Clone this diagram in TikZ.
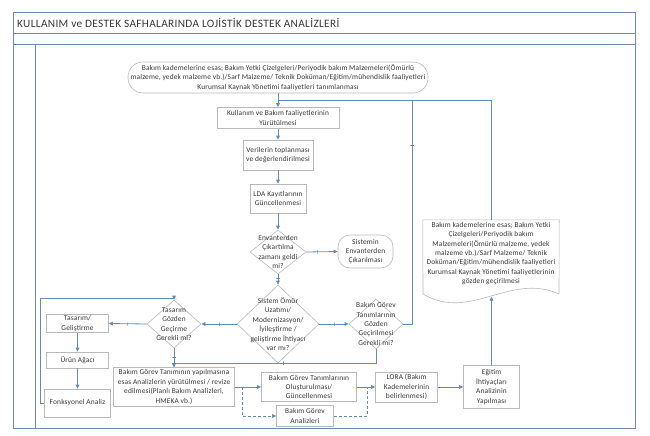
\documentclass[tikz,border=0pt]{standalone}
\usepackage{fontspec}
\setmainfont{Carlito}[LetterSpace=2]
\newfontfamily\titlefont{Carlito}[LetterSpace=3]
\usetikzlibrary{shapes.geometric,arrows.meta}
\definecolor{cblue}{RGB}{96,140,188}
\definecolor{bord}{RGB}{185,185,185}
\definecolor{frm}{RGB}{112,136,170}
\definecolor{txt}{RGB}{55,55,55}
\begin{document}
\begin{tikzpicture}[x=1pt,y=-1pt,
  box/.style={draw=bord, line width=0.6pt, fill=white, align=center,
    font=\fontsize{7.4}{9.4}\selectfont, text=txt, inner sep=0.5pt},
  rbox/.style={box, rounded corners=12pt},
  dia/.style={diamond, draw=bord, line width=0.6pt, fill=white, inner sep=0pt},
  dtext/.style={align=center, font=\fontsize{7.4}{9.4}\selectfont, text=txt, inner sep=0pt},
  link/.style={draw=cblue, line width=0.8pt},
  arr/.style={link, -{Triangle[length=4pt,width=3.6pt]}},
  tk/.style={draw=cblue, line width=0.5pt, inner sep=0pt, minimum width=0pt, minimum height=3.5pt, sloped},
  frame/.style={draw=frm, line width=0.8pt}
]
\useasboundingbox (0,0) rectangle (650,436);
% frame
\draw[frame] (13,12) rectangle (635,33);
\node[anchor=west, font=\titlefont\fontsize{11.3}{13}\selectfont, text=txt, inner sep=0pt] (title) at (17,22.5) {KULLANIM ve DESTEK SAFHALARINDA LOJİSTİK DESTEK ANALİZLERİ};
\draw[frame] (13,33) rectangle (635,428);
\draw[frame, line width=0.5pt] (13,44) -- (635,44);
\draw[frame, line width=0.5pt] (35,44) -- (35,428);

% nodes
\node[rbox, rounded corners=15pt, minimum width=300pt, minimum height=31pt] (top) at (278,77.5)
  {Bakım kademelerine esas; Bakım Yetki Çizelgeleri/Periyodik bakım Malzemeleri(Ömürlü\\
   malzeme, yedek malzeme vb.)/Sarf Malzeme/ Teknik Doküman/Eğitim/mühendislik faaliyetleri\\
   Kurumsal Kaynak Yönetimi faaliyetleri tanımlanması};
\node[box, minimum width=122pt, minimum height=21pt] (kb) at (278,118)
  {Kullanım ve Bakım faaliyetlerinin\\Yürütülmesi};
\node[box, minimum width=70pt, minimum height=30pt] (ver) at (278,155)
  {Verilerin toplanması\\ve değerlendirilmesi};
\node[box, minimum width=56pt, minimum height=29pt] (lda) at (278,198.5)
  {LDA Kayıtlarının\\Güncellenmesi};
\node[dia, minimum width=56pt, minimum height=44pt,
  label={[dtext]center:{Envanterden\\Çıkartılma\\zamanı geldi\\mi?}}] (env) at (278,252) {};
\node[rbox, minimum width=55pt, minimum height=33pt] (sis) at (365.5,251.5)
  {Sistemin\\Envanterden\\Çıkarılması};
\node[dia, minimum width=82pt, minimum height=78pt,
  label={[dtext]center:{Sistem Ömür\\Uzatımı/\\Modernizasyon/\\İyileştirme /\\geliştirme İhtiyacı\\var mı?}}] (som) at (278,324) {};
\node[dia, minimum width=54pt, minimum height=48pt,
  label={[dtext]center:{Tasarım\\Gözden\\Geçirme\\Gerekli mi?}}] (tas) at (174,324) {};
\node[dia, minimum width=54pt, minimum height=50pt,
  label={[dtext]center:{Bakım Görev\\Tanımlarının\\Gözden\\Geçirilmesi\\Gerekli mi?}}] (bgg) at (376,324) {};
\node[box, minimum width=62pt, minimum height=18pt] (tg) at (77.5,323.5) {Tasarım/\\Geliştirme};
\node[box, minimum width=62pt, minimum height=16pt] (ua) at (77.5,360) {Ürün Ağacı};
\node[box, minimum width=66pt, minimum height=28pt] (fa) at (77.5,403) {Fonksyonel Analiz};
\node[box, minimum width=121pt, minimum height=39pt] (bgt) at (174,387)
  {Bakım Görev Tanımının yapılmasına\\esas Analizlerin yürütülmesi / revize\\edilmesi(Planlı Bakım Analizleri,\\HMEKA vb.)};
\node[box, minimum width=95pt, minimum height=29pt] (bgo) at (309,387)
  {Bakım Görev Tanımlarının\\Oluşturulması/\\Güncellenmesi};
\node[box, minimum width=57pt, minimum height=21pt] (bga) at (305,416) {Bakım Görev\\Analizleri};
\node[box, minimum width=62pt, minimum height=30pt] (lora) at (406.5,387)
  {LORA (Bakım\\Kademelerinin\\belirlenmesi)};
\node[box, minimum width=56pt, minimum height=43pt] (egi) at (491.5,387)
  {Eğitim\\İhtiyaçları\\Analizinin\\Yapılması};
% document shape
\node[minimum width=136pt, minimum height=75pt, inner sep=0pt] (doc) at (491,257.5) {};
\draw[draw=bord, line width=0.6pt, fill=white] (doc.north west) -- (doc.north east) -- (559,294)
  .. controls (510,272) and (470,322) .. (423,294) -- cycle;
\node[dtext, anchor=north] (doctext) at (491,222)
  {Bakım kademelerine esas; Bakım Yetki\\Çizelgeleri/Periyodik bakım\\Malzemeleri(Ömürlü malzeme, yedek\\malzeme vb.)/Sarf Malzeme/ Teknik\\Doküman/Eğitim/mühendislik faaliyetleri\\Kurumsal Kaynak Yönetimi faaliyetlerinin\\gözden geçirilmesi};
\coordinate (docb) at (491.5,296.5);

% connectors
\coordinate (j1) at (278,100);
\coordinate (r1) at (412,100);
\draw[arr] (top.south) -- (kb.north);
\draw[link] (doc.north) |- (j1);
\draw[link] (bgg.east) -| (r1) node[tk, pos=0.9] {};
\draw[arr] (kb) -- (ver);
\draw[arr] (ver) -- (lda);
\draw[arr] (lda) -- (env);
\draw[arr] (env.east) -- (sis.west) node[tk, pos=0.35] {};
\draw[arr] (env.south) -- (som.north) node[tk, pos=0.4] {};
\draw[arr] (som.west) -- (tas.east) node[tk, pos=0.5] {};
\draw[arr] (som.east) -- (bgg.west) node[tk, pos=0.5] {};
\draw[arr] (tas.west) -- (tg.east) node[tk, pos=0.5] {};
\draw[arr] (tas.south) -- (bgt.north) node[tk, pos=0.45] {};
\draw[arr] (tg) -- (ua);
\draw[arr] (ua) -- (fa);
\coordinate (l1) at (40,298);
\draw[arr] (fa.west) -| (l1) -| (tas.north);
\coordinate (l3) at (174,363);
\draw[arr] (bgg.south) |- (l3) node[tk, pos=0.73] {} -- (bgt.north);
\draw[arr] (bgt.east) -- (bgo.west);
\coordinate (d1) at (242,387);
\coordinate (d2) at (367,387);
\draw[arr, dashed, dash pattern=on 3pt off 2pt] (d1) |- (bga.west);
\draw[link, dashed, dash pattern=on 3pt off 2pt] (bga.east) -| (d2);
\draw[arr] (bgo.east) -- (lora.west);
\draw[arr] (lora.east) -- (egi.west);
\draw[arr] (egi.north) -- (docb);
\end{tikzpicture}
\end{document}
